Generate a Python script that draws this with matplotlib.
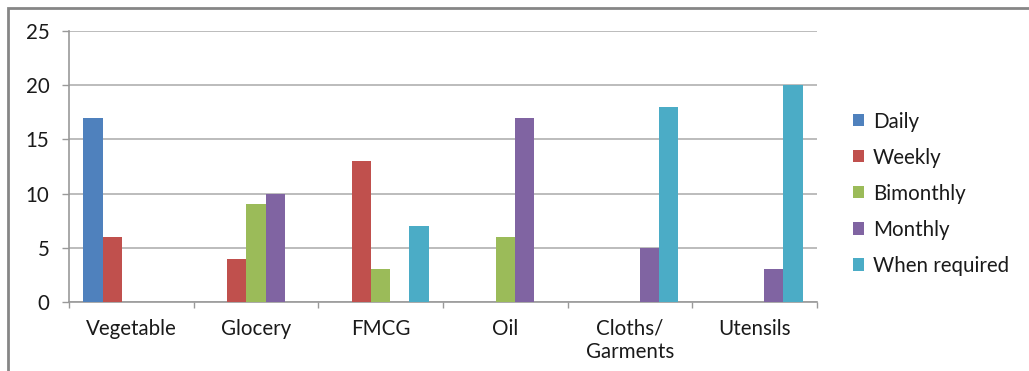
import matplotlib
matplotlib.use("Agg")
import matplotlib.pyplot as plt
from matplotlib.patches import Rectangle
import numpy as np

categories = ["Vegetable", "Glocery", "FMCG", "Oil", "Cloths/\nGarments", "Utensils"]
series_names = ["Daily", "Weekly", "Bimonthly", "Monthly", "When required"]
daily = [17, 0, 0, 0, 0, 0]
weekly = [6, 4, 13, 0, 0, 0]
bimonthly = [0, 9, 3, 6, 0, 0]
monthly = [0, 10, 0, 17, 5, 3]
when_required = [0, 0, 7, 0, 18, 20]
series_values = [daily, weekly, bimonthly, monthly, when_required]
colors = ["#4F81BD", "#C0504D", "#9BBB59", "#8064A2", "#4BACC6"]
y_ticks = [0, 5, 10, 15, 20, 25]

plt.rcParams["font.family"] = ["Lato", "DejaVu Sans"]
FS = 14.8

fig = plt.figure(figsize=(10.29, 3.71), dpi=100)
W, H = 1029, 371
ax = fig.add_axes([69 / W, (H - 302) / H, (817 - 69) / W, (302 - 31) / H])

n_series = len(series_values)
bar_w = 1.0 / (n_series + 1.5)
x = np.arange(len(categories))
for i, (vals, name, c) in enumerate(zip(series_values, series_names, colors)):
    offs = (i - (n_series - 1) / 2) * bar_w
    ax.bar(x + offs, vals, width=bar_w, color=c, label=name, zorder=3)

ax.set_xlim(-0.5, len(categories) - 0.5)
ax.set_ylim(0, 25)
ax.set_yticks(y_ticks)
ax.yaxis.grid(True, color="#B0B0B0", linewidth=1.2, zorder=0)
ax.set_xticks(x)
ax.set_xticklabels(categories, fontsize=FS, color="#1a1a1a", linespacing=1.2)
ax.set_xticks(np.arange(len(categories) + 1) - 0.5, minor=True)
ax.tick_params(axis="x", which="major", length=0, pad=12)
ax.tick_params(axis="x", which="minor", length=4, color="#999999", width=1)
ax.tick_params(axis="y", length=5, color="#999999", width=1, labelsize=FS,
               labelcolor="#1a1a1a", pad=9)
for s in ["top", "right"]:
    ax.spines[s].set_visible(False)
for s in ["left", "bottom"]:
    ax.spines[s].set_color("#999999")
    ax.spines[s].set_linewidth(1.2)

leg = fig.legend(loc="upper left", bbox_to_anchor=(834 / W, 1 - 93 / H),
                 frameon=False, fontsize=FS, handlelength=0.55, handleheight=0.55,
                 labelspacing=0.78, handletextpad=0.45)
for t in leg.get_texts():
    t.set_color("#1a1a1a")

# outer frame of the chart area
fig.patches.append(Rectangle((8 / W, -0.1), 1.2, 1 - 8 / H + 0.1, transform=fig.transFigure,
                             fill=False, edgecolor="#868686", linewidth=2))

fig.savefig("out.png", dpi=100)
